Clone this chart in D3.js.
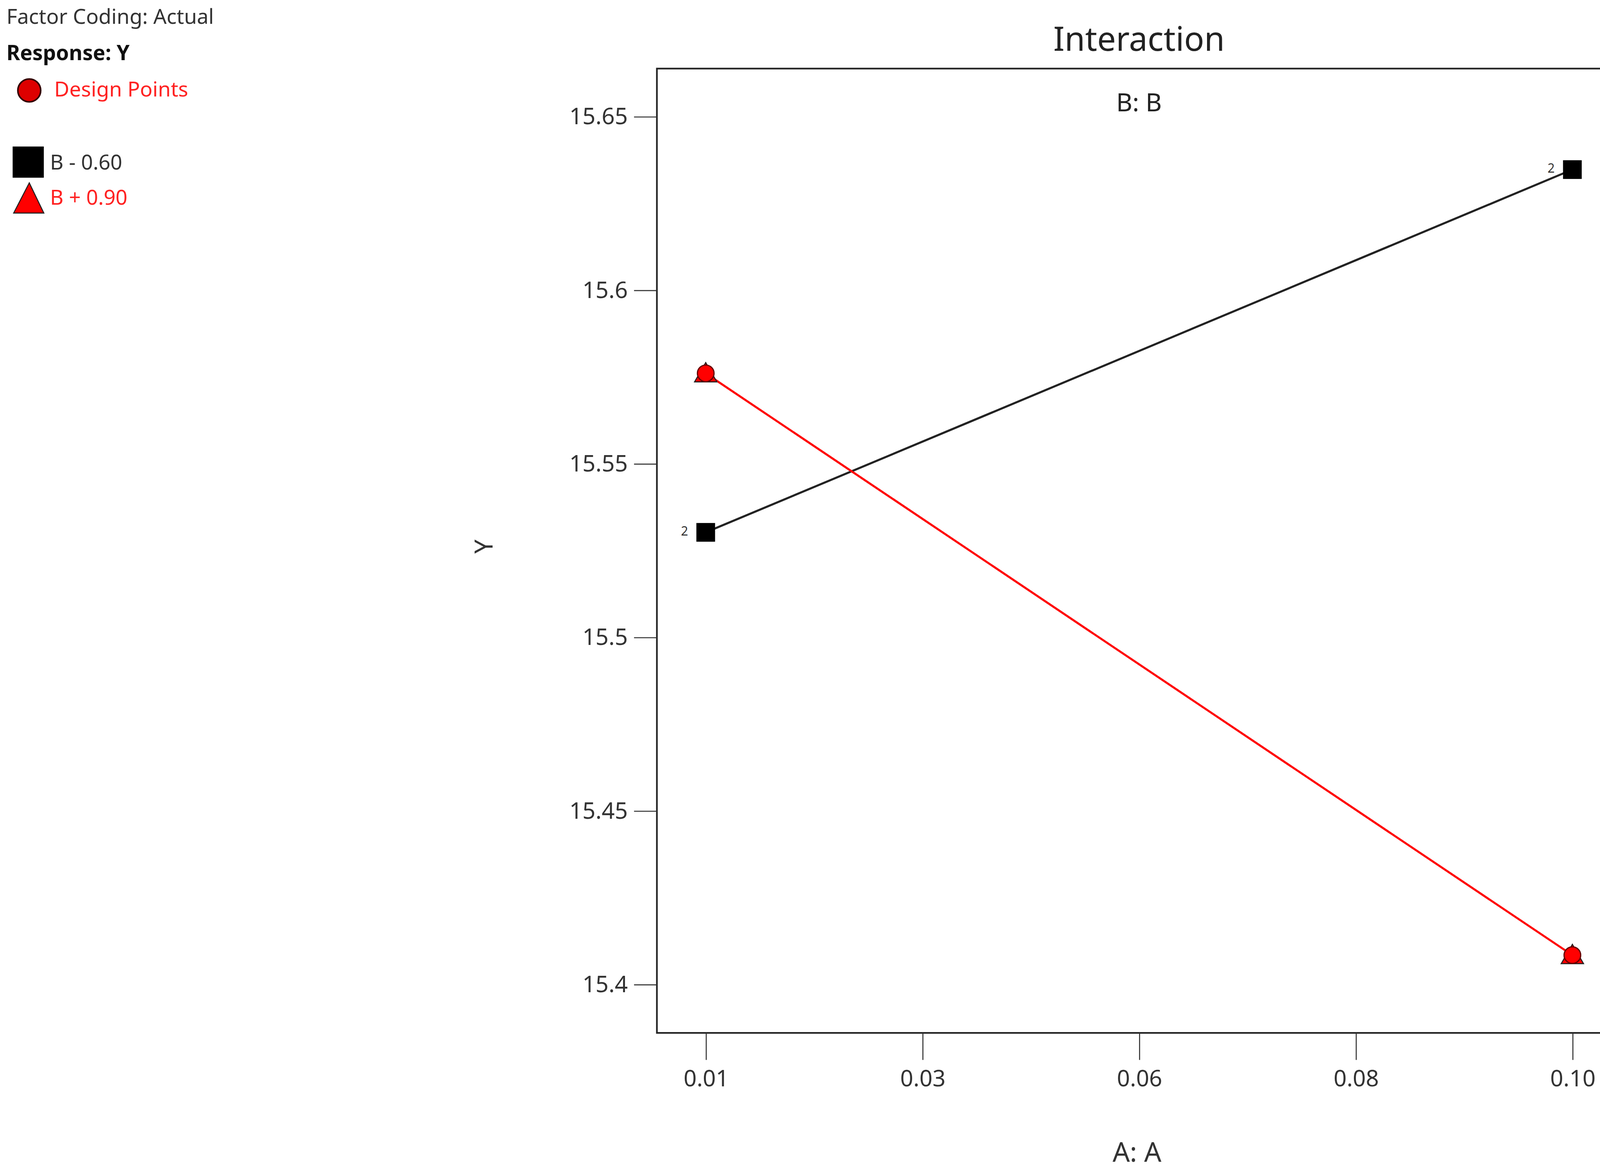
<!DOCTYPE html>
<html><head><meta charset="utf-8">
<script src="https://cdn.jsdelivr.net/npm/d3@7"></script>
<style>body{margin:0;background:#fff}text{font-family:"Noto Sans",sans-serif}</style>
</head><body>
<script>
// data
var xLevels = [0.01, 0.10];
var seriesLow = [15.5302, 15.6347];   // B - 0.60
var seriesHigh = [15.576, 15.4084];   // B + 0.90
var xTicks = [0.01, 0.0325, 0.055, 0.0775, 0.10];
var xTickLabels = ["0.01", "0.03", "0.06", "0.08", "0.10"];
var yTicks = [15.4, 15.45, 15.5, 15.55, 15.6, 15.65];
var yTickLabels = ["15.4", "15.45", "15.5", "15.55", "15.6", "15.65"];

var svg = d3.select("body").append("svg")
    .attr("width", 4172).attr("height", 2990)
    .attr("viewBox", "0 0 1568 1124");

var pLeft = 632, pRight = 1560, pTop = 66, pBottom = 994;
var x = d3.scaleLinear().domain([0.00493, 0.10507]).range([pLeft, pRight]);
var y = d3.scaleLinear().domain([15.386, 15.6638]).range([pBottom, pTop]);

svg.append("rect").attr("x", pLeft).attr("y", pTop)
    .attr("width", pRight-pLeft).attr("height", pBottom-pTop)
    .attr("fill", "none").attr("stroke", "#222").attr("stroke-width", 1.6);

var yAxis = svg.append("g").attr("transform", "translate(" + pLeft + ",0)")
    .call(d3.axisLeft(y).tickValues(yTicks).tickSize(22).tickPadding(6)
      .tickFormat(function(d, i){ return yTickLabels[i]; }));
var xAxis = svg.append("g").attr("transform", "translate(0," + pBottom + ")")
    .call(d3.axisBottom(x).tickValues(xTicks).tickSize(26).tickPadding(10)
      .tickFormat(function(d, i){ return xTickLabels[i]; }));
[xAxis, yAxis].forEach(function(a){
  a.select(".domain").remove();
  a.selectAll("line").attr("stroke", "#333");
  a.selectAll("text").attr("font-size", 22).attr("fill", "#333")
    .style("font-family", "'Noto Sans',sans-serif");
});

svg.append("text").attr("x", 1096).attr("y", 49).attr("text-anchor", "middle")
  .attr("font-size", 32).attr("fill", "#222").text("Interaction");
svg.append("text").attr("x", 1096).attr("y", 107).attr("text-anchor", "middle")
  .attr("font-size", 24).attr("fill", "#222").text("B: B");
svg.append("text").attr("x", 1094).attr("y", 1118).attr("text-anchor", "middle")
  .attr("font-size", 26).attr("fill", "#333").text("A: A");
svg.append("text").attr("transform", "translate(474,526) rotate(-90)")
  .attr("text-anchor", "middle").attr("font-size", 24).attr("fill", "#333").text("Y");

var line = d3.line().x(function(d, i){ return x(xLevels[i]); }).y(function(d){ return y(d); });
svg.append("path").datum(seriesLow).attr("d", line)
  .attr("fill", "none").attr("stroke", "#222").attr("stroke-width", 2);
svg.append("path").datum(seriesHigh).attr("d", line)
  .attr("fill", "none").attr("stroke", "#f00").attr("stroke-width", 2);

// black squares with "2" labels
seriesLow.forEach(function(v, i){
  svg.append("rect").attr("x", x(xLevels[i]) - 9).attr("y", y(v) - 9)
    .attr("width", 18).attr("height", 18).attr("fill", "#000");
  svg.append("text").attr("x", x(xLevels[i]) - 17).attr("y", y(v) + 3)
    .attr("text-anchor", "end").attr("font-size", 12).attr("fill", "#333").text("2");
});
// red triangles + design point circles
seriesHigh.forEach(function(v, i){
  var cx = x(xLevels[i]), cy = y(v);
  svg.append("path").attr("d", d3.symbol(d3.symbolTriangle, 200)())
    .attr("transform", "translate(" + cx + "," + (cy + 2) + ")")
    .attr("fill", "#f00").attr("stroke", "#222").attr("stroke-width", 1);
  svg.append("circle").attr("cx", cx).attr("cy", cy).attr("r", 8)
    .attr("fill", "#f00").attr("stroke", "#600").attr("stroke-width", 1.2);
});

// header / legend
svg.append("text").attr("x", 6).attr("y", 23).attr("font-size", 20).attr("fill", "#333").text("Factor Coding: Actual");
svg.append("text").attr("x", 6).attr("y", 58).attr("font-size", 20).attr("font-weight", "bold").attr("fill", "#111").text("Response: Y");
svg.append("circle").attr("cx", 28).attr("cy", 87).attr("r", 11).attr("fill", "#d00").attr("stroke", "#300").attr("stroke-width", 1.5);
svg.append("text").attr("x", 52).attr("y", 93).attr("font-size", 20).attr("fill", "#f22").text("Design Points");
svg.append("rect").attr("x", 12).attr("y", 141).attr("width", 30).attr("height", 30).attr("fill", "#000");
svg.append("text").attr("x", 48).attr("y", 163).attr("font-size", 20).attr("fill", "#333").text("B - 0.60");
svg.append("path").attr("d", "M28,176 L42,205 L13,205 Z").attr("fill", "#f00").attr("stroke", "#222").attr("stroke-width", 1);
svg.append("text").attr("x", 48).attr("y", 197).attr("font-size", 20).attr("fill", "#f22").text("B + 0.90");
</script>
</body></html>
